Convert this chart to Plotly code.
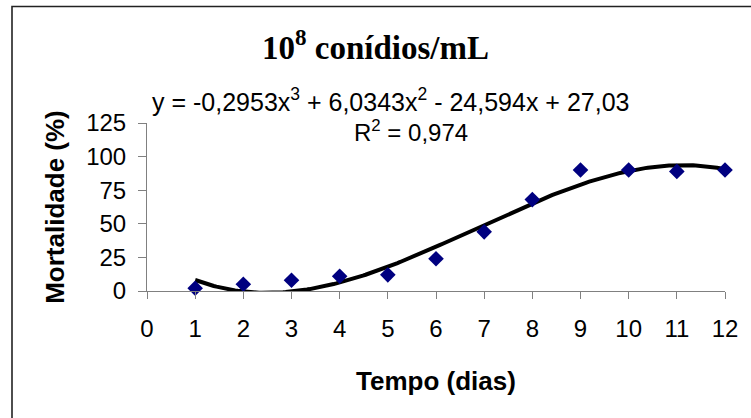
import numpy as np
import plotly.graph_objects as go

# Data
dias = [1, 2, 3, 4, 5, 6, 7, 8, 9, 10, 11, 12]
mortalidade = [2, 5, 8, 11, 12, 24, 44, 68, 90, 90, 89, 90]
# Trendline coefficients as printed on the chart (cubic, highest power first)
coef = [-0.2953, 6.0343, -24.594, 27.03]
x_ticks = list(range(0, 13))
y_ticks = [0, 25, 50, 75, 100, 125]

W, H = 751, 418
L, T = 147, 123
R = W - 725
B = H - 291

xf = np.linspace(min(dias), max(dias), 200)
yf = np.polyval(coef, xf)

fig = go.Figure()
fig.add_trace(go.Scatter(x=xf, y=yf, mode="lines",
                         line=dict(color="black", width=4), hoverinfo="skip",
                         showlegend=False, cliponaxis=False))
fig.add_trace(go.Scatter(x=dias, y=mortalidade, mode="markers",
                         marker=dict(symbol="diamond", size=12, color="#000080",
                                     line=dict(width=0)),
                         showlegend=False, cliponaxis=False))

axis_font = dict(family="Liberation Sans, Arial, sans-serif", size=24, color="black")
fig.update_layout(
    width=W, height=H,
    margin=dict(l=L, r=R, t=T, b=B),
    paper_bgcolor="white", plot_bgcolor="white",
    xaxis=dict(range=[0, 12], tickvals=x_ticks, ticks="outside", ticklen=7,
               tickcolor="#808080", showline=True, linecolor="#808080", linewidth=1,
               showgrid=False, zeroline=False, tickfont=axis_font,
               ticklabelstandoff=9,
               title=dict(text="<b>Tempo (dias)</b>", standoff=31,
                          font=dict(family="Liberation Sans, Arial, sans-serif", size=26, color="black"))),
    yaxis=dict(range=[0, 125], tickvals=y_ticks, ticks="outside", ticklen=8,
               tickcolor="#808080", showline=True, linecolor="#808080", linewidth=1,
               showgrid=False, zeroline=False, tickfont=axis_font,
               ticklabelstandoff=7,
               title=dict(text="<b>Mortalidade (%)</b>", standoff=14,
                          font=dict(family="Liberation Sans, Arial, sans-serif", size=26, color="black"))),
)

pw = W - L - R
ph = H - T - B
def px2paper_x(p):
    return (p - L) / pw
def px2paper_y(p):
    return (H - B - p) / ph

fig.add_shape(type="rect", xref="paper", yref="paper",
              x0=px2paper_x(12), x1=px2paper_x(W + 20),
              y0=px2paper_y(H + 20), y1=px2paper_y(6.5),
              line=dict(color="#222222", width=1.6), fillcolor="rgba(0,0,0,0)")

fig.add_annotation(xref="paper", yref="paper", x=px2paper_x(375), y=px2paper_y(45),
                   text="<b>10<sup>8</sup> conídios/mL</b>", showarrow=False,
                   font=dict(family="Liberation Serif, Times New Roman, serif", size=33, color="black"),
                   xanchor="center", yanchor="middle")
fig.add_annotation(xref="paper", yref="paper", x=px2paper_x(390), y=px2paper_y(100),
                   text="y = -0,2953x<sup>3</sup> + 6,0343x<sup>2</sup> - 24,594x + 27,03",
                   showarrow=False, font=dict(family="Liberation Sans, Arial, sans-serif", size=25, color="black"),
                   xanchor="center", yanchor="middle")
fig.add_annotation(xref="paper", yref="paper", x=px2paper_x(411), y=px2paper_y(131),
                   text="R<sup>2</sup> = 0,974",
                   showarrow=False, font=dict(family="Liberation Sans, Arial, sans-serif", size=24, color="black"),
                   xanchor="center", yanchor="middle")

fig.write_html("out.html", config={"displayModeBar": False},
               post_script="document.body.style.margin='0';document.body.style.overflow='hidden';")
